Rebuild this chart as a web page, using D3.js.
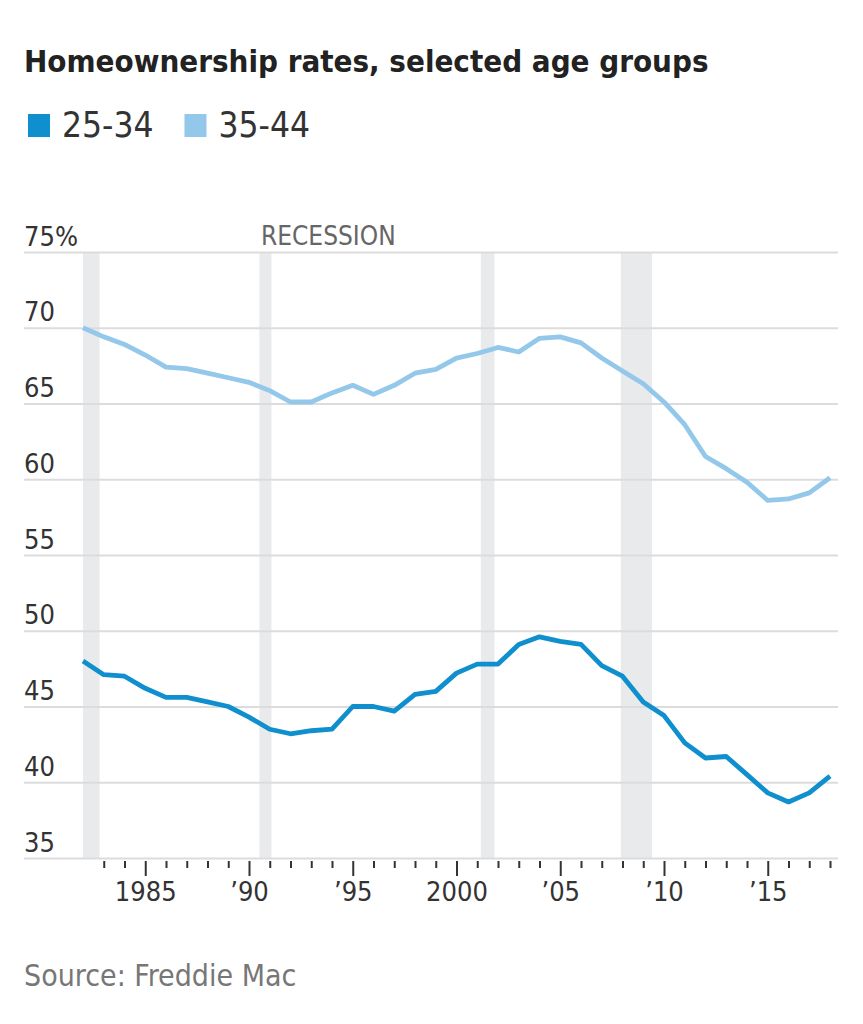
<!DOCTYPE html>
<html><head><meta charset="utf-8">
<script src="https://cdn.jsdelivr.net/npm/d3@7/dist/d3.min.js"></script>
<style>
body{margin:0;background:#fff;}
svg text{font-family:"Liberation Sans Narrow","DejaVu Sans Condensed","Roboto",sans-serif;}
</style></head><body><svg id="c" width="863" height="1024"></svg>
<script>
const years = [1982,1983,1984,1985,1986,1987,1988,1989,1990,1991,1992,1993,1994,1995,1996,1997,1998,1999,2000,2001,2002,2003,2004,2005,2006,2007,2008,2009,2010,2011,2012,2013,2014,2015,2016,2017,2018];
const age2534 = [48.0,47.1,47.0,46.2,45.6,45.6,45.3,45.0,44.3,43.5,43.2,43.4,43.5,45.0,45.0,44.7,45.8,46.0,47.2,47.8,47.8,49.1,49.6,49.3,49.1,47.7,47.0,45.3,44.4,42.6,41.6,41.7,40.5,39.3,38.7,39.3,40.4];
const age3544 = [70.0,69.4,68.9,68.2,67.4,67.3,67.0,66.7,66.4,65.85,65.1,65.1,65.7,66.2,65.6,66.2,67.0,67.25,68.0,68.3,68.7,68.4,69.3,69.4,69.0,68.0,67.15,66.3,65.1,63.6,61.5,60.7,59.8,58.6,58.7,59.1,60.1];
const seriesNames = ["25-34","35-44"];
const recessionStart = [1982.0,1990.5,2001.17,2007.92];
const recessionEnd = [1982.8,1991.08,2001.83,2009.42];
const yTicks = [35,40,45,50,55,60,65,70,75];
const majorYears = [1985,1990,1995,2000,2005,2010,2015];
const majorLabels = ["1985","’90","’95","2000","’05","’10","’15"];

const colors = ["#0f8fce","#93c8ea"];
const svg = d3.select("#c");
const x = d3.scaleLinear().domain([1982,2018]).range([83,830]);
const y = d3.scaleLinear().domain([35,75]).range([858,252]);

// title
svg.append("text").attr("x",24).attr("y",72).attr("font-size",31).attr("font-weight","bold")
  .attr("fill","#222").text("Homeownership rates, selected age groups");

// legend
let lx = 28;
seriesNames.forEach((n,i)=>{
  svg.append("rect").attr("x",lx).attr("y",114).attr("width",22).attr("height",23).attr("fill",colors[i]);
  const t = svg.append("text").attr("x",lx+34).attr("y",137).attr("font-size",35).attr("fill","#333").text(n);
  lx = lx + 34 + t.node().getComputedTextLength() + 31;
});

// recession bands
svg.append("g").selectAll("rect").data(recessionStart).join("rect")
  .attr("x",(d)=>x(d)).attr("width",(d,i)=>x(recessionEnd[i])-x(d))
  .attr("y",y(75)).attr("height",y(35)-y(75)).attr("fill","#e9eaec");

svg.append("text").attr("x",261).attr("y",245).attr("font-size",26).attr("fill","#666")
  .text("RECESSION");

// y grid
const yAxis = d3.axisLeft(y).tickValues(yTicks).tickSize(-(838-24)).tickFormat(d=> d===75? "75%": d);
const gy = svg.append("g").attr("transform","translate(24,0)").call(yAxis);
gy.select(".domain").remove();
gy.selectAll(".tick line").attr("stroke","#dcdcdc").attr("stroke-width",2);
gy.selectAll(".tick text").attr("x",0).attr("y",0).attr("dy",-7).attr("text-anchor","start")
  .attr("font-size",27).attr("fill","#333");

// x axis minor ticks
const minorYears = years.filter(d=> d>1982 && majorYears.indexOf(d)<0);
const gxMinor = svg.append("g").attr("transform","translate(0,861)")
  .call(d3.axisBottom(x).tickValues(minorYears).tickSize(7).tickFormat(""));
gxMinor.select(".domain").remove();
gxMinor.selectAll(".tick line").attr("stroke","#333").attr("stroke-width",2);

const gxMajor = svg.append("g").attr("transform","translate(0,861)")
  .call(d3.axisBottom(x).tickValues(majorYears).tickSize(15).tickFormat((d,i)=>majorLabels[i]));
gxMajor.select(".domain").remove();
gxMajor.selectAll(".tick line").attr("stroke","#333").attr("stroke-width",2);
gxMajor.selectAll(".tick text").attr("y",40).attr("dy",0).attr("font-size",27).attr("fill","#333");

// lines
const line = d3.line().x((d,i)=>x(years[i])).y(d=>y(d));
[age3544, age2534].forEach((s,k)=>{
  svg.append("path").datum(s).attr("d",line).attr("fill","none")
    .attr("stroke", k===0? colors[1]: colors[0]).attr("stroke-width",4.8)
    .attr("stroke-linejoin","round");
});

// source
svg.append("text").attr("x",24).attr("y",986).attr("font-size",30).attr("fill","#777").text("Source: Freddie Mac");
</script></body></html>
